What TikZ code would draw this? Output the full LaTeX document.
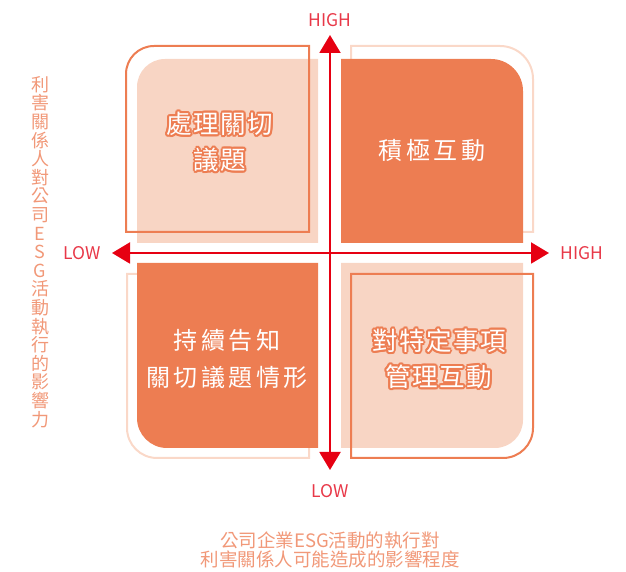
\documentclass[tikz,border=0pt]{standalone}
\usepackage{fontspec}
\setmainfont{Noto Sans CJK TC}
\newfontfamily\cjkwide[LetterSpace=14]{Noto Sans CJK TC}
\newfontfamily\cjknarrow[LetterSpace=6]{Noto Sans CJK TC}
\usepackage{tikz}
\usetikzlibrary{positioning,arrows.meta}

\definecolor{qdark}{RGB}{237,125,82}
\definecolor{qlight}{RGB}{248,213,196}
\definecolor{qline}{RGB}{250,216,200}
\definecolor{axisred}{RGB}{230,0,18}
\definecolor{lblred}{RGB}{232,56,72}
\definecolor{sidetxt}{RGB}{241,152,120}

\begin{document}
\begin{tikzpicture}[x=1pt,y=1pt]

\tikzstyle{darkline} = [draw=qdark, line width=2pt]
\tikzstyle{lightline} = [draw=qline, line width=2pt]
\tikzstyle{axisline} = [draw=axisred, line width=2pt, {Triangle[length=18pt,width=21pt]}-{Triangle[length=18pt,width=21pt]}]
\tikzstyle{axlabel} = [text=lblred, font=\fontsize{17.5}{20}\selectfont, inner sep=0pt]
\tikzstyle{plaintxt} = [text=white, align=center, font=\cjkwide\fontsize{24}{37}\selectfont]
\tikzstyle{halotxt} = [text=white, align=center, font=\cjknarrow\fontsize{25.5}{36}\selectfont]

\newcommand{\haloText}[1]{\leavevmode
  \foreach \ang in {0,30,...,330}{%
    \pgfmathsetlengthmacro\hx{2pt*cos(\ang)}%
    \pgfmathsetlengthmacro\hy{2pt*sin(\ang)}%
    \rlap{\kern\hx\raisebox{\hy}{\color{qdark}#1}}}%
  #1}

\useasboundingbox (0,0) rectangle (626,572);

% top left
\fill[qlight] (318,329) -- (137,329) -- (137,485) arc (180:90:28) -- (318,513) -- cycle;
\path[darkline] (309,340) -- (126,340) -- (126,498) arc (180:90:28) -- (309,526) -- cycle;
% top right
\path[lightline] (351,340) -- (351,526) -- (500,526) arc (90:0:33) -- (533,340) -- cycle;
\fill[qdark] (341,329) -- (341,513) -- (491,513) arc (90:0:32) -- (523,329) -- cycle;
% bottom left
\path[lightline] (309,298) -- (127,298) -- (127,144) arc (180:270:30) -- (309,114) -- cycle;
\fill[qdark] (318,309) -- (137,309) -- (137,154) arc (180:270:30) -- (318,124) -- cycle;
% bottom right
\fill[qlight] (341,309) -- (523,309) -- (523,152) arc (0:-90:28) -- (341,124) -- cycle;
\path[darkline] (351,298) -- (533,298) -- (533,144) arc (0:-90:30) -- (351,114) -- cycle;

\coordinate (ytop) at (330,537);
\coordinate (ybot) at (330,102);
\coordinate (xleft) at (112,319);
\coordinate (xright) at (549,319);
\path[axisline] (ybot) -- (ytop);
\path[axisline] (xleft) -- (xright);

\node[axlabel] (yhigh) at (330,552) {HIGH};
\node[axlabel] (ylow) at (330,81) {LOW};
\node[axlabel] (xlow) at (82,319) {LOW};
\node[axlabel] (xhigh) at (582,319) {HIGH};

\node[halotxt] (q1) at (220,430) {\haloText{處理關切}\\\haloText{議題}};
\node[plaintxt] (q2) at (432,422) {積極互動};
\node[plaintxt] (q3) at (227,213) {持續告知\\關切議題情形};
\node[halotxt] (q4) at (439,213) {\haloText{對特定事項}\\\haloText{管理互動}};

\node[text=sidetxt, align=center, inner sep=0pt, font=\fontsize{18}{18.6}\selectfont] (ytitle) at (40,320)
  {利\\害\\關\\係\\人\\對\\公\\司\\E\\S\\G\\活\\動\\執\\行\\的\\影\\響\\力};
\node[text=sidetxt, align=center, inner sep=0pt, font=\fontsize{18.5}{19.5}\selectfont] (xtitle) at (330,22)
  {公司企業ESG活動的執行對\\利害關係人可能造成的影響程度};

\end{tikzpicture}
\end{document}
